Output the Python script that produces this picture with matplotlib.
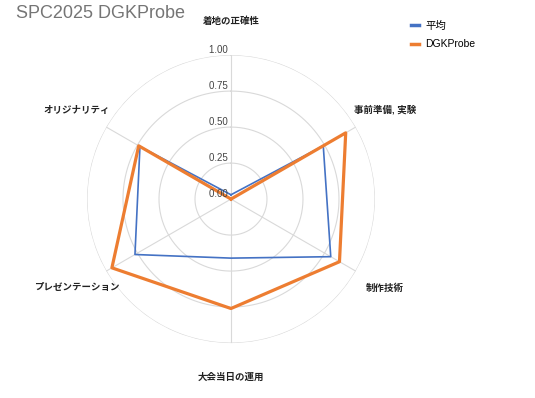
import matplotlib
matplotlib.use("Agg")
import matplotlib.pyplot as plt
from matplotlib.lines import Line2D
import numpy as np

plt.rcParams['font.family'] = ['Liberation Sans', 'Noto Sans CJK JP', 'DejaVu Sans']

categories = ['着地の正確性', '事前準備, 実験', '制作技術', '大会当日の運用',
              'プレゼンテーション', 'オリジナリティ']
avg_values = [0.03, 0.74, 0.80, 0.41, 0.77, 0.73]
dgk_values = [0.00, 0.92, 0.87, 0.76, 0.955, 0.74]
series_names = ['平均', 'DGKProbe']
r_ticks = [0.0, 0.25, 0.5, 0.75, 1.0]
r_tick_labels = ['0.00', '0.25', '0.50', '0.75', '1.00']

blue = '#4472C4'
orange = '#ED7D31'
grid_col = '#d9d9d9'

fig = plt.figure(figsize=(5.35, 3.98), dpi=100)
ax = fig.add_axes([0.1626, 0.138, 0.5383, 0.7236], projection='polar')
ax.set_theta_zero_location('N')
ax.set_theta_direction(-1)
ax.set_ylim(0, 1.0)

n = len(categories)
angles = np.arange(n) * 2 * np.pi / n
closed = np.append(angles, angles[0])

# grid
ax.grid(False)
ax.spines['polar'].set_visible(False)
ax.set_xticks([])
ax.set_yticks([])
t = np.linspace(0, 2 * np.pi, 300)
for r in r_ticks[1:]:
    ax.plot(t, np.full_like(t, r), color=grid_col, lw=0.8, zorder=1)
for a in angles:
    ax.plot([a, a], [0, 1.0], color=grid_col, lw=0.8, zorder=1)

ax.plot(closed, np.append(avg_values, avg_values[0]), color=blue, lw=1.2, zorder=3)
ax.plot(closed, np.append(dgk_values, dgk_values[0]), color=orange, lw=2.3, zorder=4)

for r, lab in zip(r_ticks, r_tick_labels):
    ax.text(0, r, lab + ' ', ha='right', va='bottom', fontsize=7, color='#444444', zorder=5)

for a, lab in zip(angles, categories):
    ax.text(a, 1.235, lab, ha='center', va='center', fontsize=6.8, fontweight='bold',
            color='#222222', clip_on=False)

fig.text(0.03, 0.966, 'SPC2025 DGKProbe', fontsize=13, color='#757575', va='center')

handles = [Line2D([], [], color=blue, lw=2.5), Line2D([], [], color=orange, lw=2.5)]
fig.legend(handles, series_names, loc='upper left', bbox_to_anchor=(0.75, 0.972),
           frameon=False, fontsize=7.5, handlelength=0.8, handletextpad=0.6,
           labelspacing=0.85)

fig.savefig('out.png', dpi=100)
